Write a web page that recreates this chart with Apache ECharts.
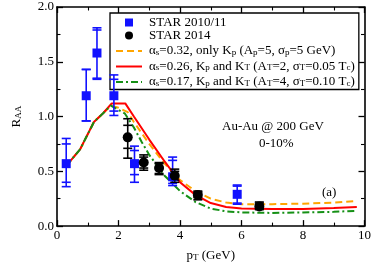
<!DOCTYPE html>
<html>
<head>
<meta charset="utf-8">
<script src="https://cdn.jsdelivr.net/npm/echarts@6/dist/echarts.min.js"></script>
<style>html,body{margin:0;padding:0;background:#fff}#c{width:374px;height:267px}</style>
</head>
<body>
<div id="c"></div>
<script>
// ---- data ----
const xTicks = [0, 2, 4, 6, 8, 10];
const yTicks = [0.0, 0.5, 1.0, 1.5, 2.0];

const star1011_pt = [0.3, 0.95, 1.3, 1.85, 2.52, 3.76, 5.86];
const star1011_R = [0.57, 1.19, 1.58, 1.19, 0.57, 0.45, 0.29];
const star1011_hiOuter = [0.80, 1.43, 1.81, 1.38, 0.73, 0.63, 0.375];
const star1011_hiInner = [0.75, 1.43, 1.79, 1.34, 0.69, 0.60, 0.365];
const star1011_loInner = [0.40, 0.96, 1.35, 1.05, 0.47, 0.39, 0.21];
const star1011_loOuter = [0.36, 0.96, 1.34, 1.01, 0.40, 0.37, 0.20];

const star2014_pt = [2.3, 2.82, 3.32, 3.83, 4.58, 6.58];
const star2014_R = [0.81, 0.58, 0.53, 0.46, 0.285, 0.18];
const star2014_hiOuter = [0.98, 0.65, 0.58, 0.52, 0.32, 0.22];
const star2014_hiInner = [0.92, 0.63, 0.57, 0.50, 0.31, 0.21];
const star2014_loInner = [0.71, 0.53, 0.48, 0.42, 0.26, 0.16];
const star2014_loOuter = [0.62, 0.51, 0.47, 0.40, 0.24, 0.15];

const orange_pt = [0.3, 0.75, 1.2, 1.5, 1.75, 2.0, 2.3, 2.5, 3.0, 3.5, 4.0, 4.5, 5.0, 5.5, 6.0, 7.0, 8.0, 9.0, 9.75];
const orange_R  = [0.55, 0.70, 0.95, 1.03, 1.10, 1.08, 1.04, 0.95, 0.75, 0.57, 0.42, 0.32, 0.25, 0.215, 0.20, 0.20, 0.205, 0.215, 0.23];

const red_pt = [0.3, 0.75, 1.2, 1.5, 1.78, 2.22, 2.5, 3.0, 3.5, 4.0, 4.5, 5.0, 5.5, 6.0, 7.0, 8.0, 9.0, 9.75];
const red_R  = [0.55, 0.70, 0.95, 1.03, 1.12, 1.12, 1.00, 0.79, 0.59, 0.40, 0.285, 0.21, 0.175, 0.16, 0.155, 0.155, 0.165, 0.175];

const green_pt = [0.3, 0.75, 1.2, 1.5, 1.75, 2.0, 2.2, 2.5, 2.75, 3.0, 3.5, 4.0, 4.5, 5.0, 5.5, 6.0, 7.0, 8.0, 9.0, 9.75];
const green_R  = [0.55, 0.70, 0.95, 1.03, 1.10, 1.06, 1.03, 0.90, 0.77, 0.65, 0.46, 0.32, 0.22, 0.16, 0.135, 0.125, 0.12, 0.125, 0.13, 0.14];

const names = ['STAR 2010/11', 'STAR 2014', 'orange', 'red', 'green'];
const legendRich = {
  'orange': '\u03b1{sub|s}=0.32, only K{sub|p} (A{sub|p}=5, \u03c3{sub|p}=5 GeV)',
  'red': '\u03b1{sub|s}=0.26, K{sub|p} and K{sub|T} (A{sub|T}=2, \u03c3{sub|T}=0.05 T{sub|c})',
  'green': '\u03b1{sub|s}=0.17, K{sub|p} and K{sub|T} (A{sub|T}=4, \u03c3{sub|T}=0.10 T{sub|c})'
};

const BLUE = '#1111ff', BLACK = '#000000', ORANGE = '#ffa500', RED = '#ff0000', GREEN = '#159015';
const FONT = '"Liberation Serif", "DejaVu Serif", serif';

function zip(a, b) { return a.map((v, i) => [v, b[i]]); }
function errData(pt, lo2, lo1, hi1, hi2) { return pt.map((v, i) => [v, lo2[i], lo1[i], hi1[i], hi2[i]]); }

function errRender(color, hw) {
  return function (params, api) {
    const x = api.value(0);
    const pLo2 = api.coord([x, api.value(1)]);
    const pLo1 = api.coord([x, api.value(2)]);
    const pHi1 = api.coord([x, api.value(3)]);
    const pHi2 = api.coord([x, api.value(4)]);
    const st = { stroke: color, lineWidth: 1.6 };
    const cap = p => ({ type: 'line', shape: { x1: p[0] - hw, y1: p[1], x2: p[0] + hw, y2: p[1] }, style: st });
    return {
      type: 'group',
      children: [
        { type: 'line', shape: { x1: pLo2[0], y1: pLo2[1], x2: pHi2[0], y2: pHi2[1] }, style: st },
        cap(pLo2), cap(pLo1), cap(pHi1), cap(pHi2)
      ]
    };
  };
}

const subStyle = { fontSize: 9, fontFamily: FONT, color: '#000', lineHeight: 9, padding: [6, 0, 0, 0], verticalAlign: 'bottom' };
const hiddenSymbol = { color: 'rgba(0,0,0,0)', opacity: 0, borderWidth: 0, borderColor: 'rgba(0,0,0,0)' };

const chart = echarts.init(document.getElementById('c'), null, { renderer: 'canvas' });
const axisCommon = {
  type: 'value',
  axisLine: { show: true, onZero: false, lineStyle: { color: '#000', width: 1.6 } },
  axisTick: { show: true, inside: true, length: 6, lineStyle: { color: '#000', width: 1.3 } },
  minorTick: { show: true, splitNumber: 2, length: 3.5, lineStyle: { color: '#000', width: 1.1 } },
  splitLine: { show: false },
  minorSplitLine: { show: false }
};

chart.setOption({
  animation: false,
  backgroundColor: '#fff',
  grid: { left: 40, right: 7, top: 7, bottom: 33, containLabel: false },
  xAxis: [
    Object.assign({}, axisCommon, {
      min: 0, max: 10, interval: 2, position: 'bottom',
      axisLabel: { color: '#000', fontFamily: FONT, fontSize: 13, margin: 3,
        formatter: v => xTicks.includes(v) ? String(v) : '' },
      name: 'p{sub|T} (GeV)', nameLocation: 'middle', nameGap: 20,
      nameTextStyle: { color: '#000', fontFamily: FONT, fontSize: 13, lineHeight: 13, rich: { sub: subStyle } }
    }),
    Object.assign({}, axisCommon, {
      min: 0, max: 10, interval: 2, position: 'top', axisLabel: { show: false }
    })
  ],
  yAxis: [
    Object.assign({}, axisCommon, {
      min: 0, max: 2, interval: 0.5, position: 'left',
      axisLabel: { color: '#000', fontFamily: FONT, fontSize: 13, margin: 3,
        formatter: v => yTicks.some(t => Math.abs(t - v) < 1e-9) ? v.toFixed(1) : '' },
      name: 'R{sub|AA}', nameLocation: 'middle', nameGap: 34, nameRotate: 90,
      nameTextStyle: { color: '#000', fontFamily: FONT, fontSize: 13, lineHeight: 13, rich: { sub: subStyle } }
    }),
    Object.assign({}, axisCommon, {
      min: 0, max: 2, interval: 0.5, position: 'right', axisLabel: { show: false }
    })
  ],
  legend: {
    orient: 'vertical', left: 110, top: 13,
    padding: [3, 4, 1, 5],
    itemGap: 0, itemWidth: 26, itemHeight: 8,
    borderColor: '#000', borderWidth: 1.3, backgroundColor: '#fff',
    data: [
      { name: names[0], icon: 'path://M0,0L10,0L10,10L0,10Z' },
      { name: names[1], icon: 'circle' },
      { name: names[2], itemStyle: hiddenSymbol },
      { name: names[3], itemStyle: hiddenSymbol },
      { name: names[4], itemStyle: hiddenSymbol }
    ],
    formatter: n => legendRich[n] || n,
    textStyle: { color: '#000', fontFamily: FONT, fontSize: 13, lineHeight: 12, padding: [0, 0, 0, 2],
      rich: { sub: subStyle } }
  },
  graphic: [
    { type: 'text', left: 222, top: 120, style: { text: 'Au-Au @ 200 GeV', font: '13px ' + FONT, fill: '#000' } },
    { type: 'text', left: 259, top: 137, style: { text: '0-10%', font: '13px ' + FONT, fill: '#000' } },
    { type: 'text', left: 322, top: 186, style: { text: '(a)', font: '13px ' + FONT, fill: '#000' } }
  ],
  series: [
    { name: names[2], type: 'line', data: zip(orange_pt, orange_R), showSymbol: false, symbol: 'none', z: 3,
      lineStyle: { color: ORANGE, width: 2, type: [7, 4] }, itemStyle: { color: ORANGE } },
    { name: names[3], type: 'line', data: zip(red_pt, red_R), showSymbol: false, symbol: 'none', z: 3,
      lineStyle: { color: RED, width: 2 }, itemStyle: { color: RED } },
    { name: names[4], type: 'line', data: zip(green_pt, green_R), showSymbol: false, symbol: 'none', z: 3,
      lineStyle: { color: GREEN, width: 2, type: [7, 3, 2, 3] }, itemStyle: { color: GREEN } },
    { name: 'err1011', type: 'custom', renderItem: errRender(BLUE, 4.5), z: 4,
      data: errData(star1011_pt, star1011_loOuter, star1011_loInner, star1011_hiInner, star1011_hiOuter),
      encode: { x: 0, y: [1, 4] } },
    { name: 'err2014', type: 'custom', renderItem: errRender(BLACK, 4.5), z: 4,
      data: errData(star2014_pt, star2014_loOuter, star2014_loInner, star2014_hiInner, star2014_hiOuter),
      encode: { x: 0, y: [1, 4] } },
    { name: names[0], type: 'scatter', data: zip(star1011_pt, star1011_R), symbol: 'rect', symbolSize: 9, z: 5,
      itemStyle: { color: BLUE, opacity: 1 } },
    { name: names[1], type: 'scatter', data: zip(star2014_pt, star2014_R), symbol: 'circle', symbolSize: 10, z: 5,
      itemStyle: { color: BLACK, opacity: 1 } }
  ]
});
</script>
</body>
</html>
